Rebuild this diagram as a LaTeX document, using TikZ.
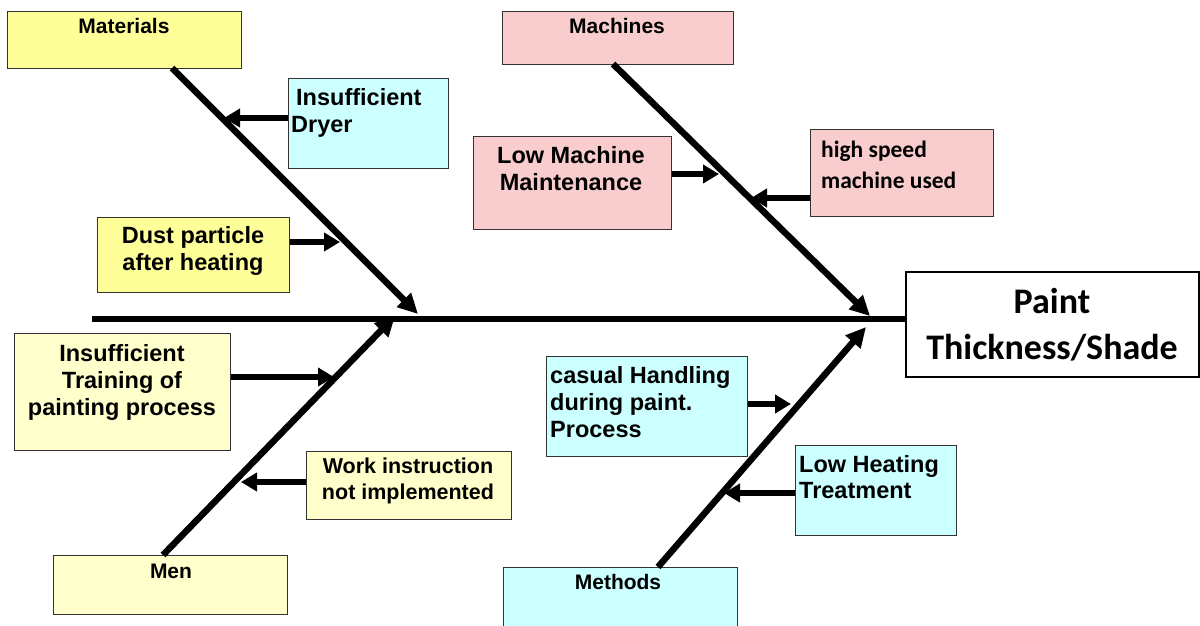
\documentclass[tikz,border=0pt]{standalone}
\usepackage{fontspec}
\setmainfont{Liberation Sans}
\newfontfamily\calib{Carlito}
\usetikzlibrary{arrows.meta}
\definecolor{yel}{HTML}{FFFF99}
\definecolor{pyel}{HTML}{FFFFCC}
\definecolor{pnk}{HTML}{F9CDCD}
\definecolor{cyn}{HTML}{CCFFFF}
\definecolor{edgec}{HTML}{333333}
\newcommand\mylinesl[1]{\begin{tabular}[t]{@{}l@{}}#1\end{tabular}}
\newcommand\mylinesc[1]{\begin{tabular}[t]{@{}c@{}}#1\end{tabular}}
\begin{document}
\begin{tikzpicture}[x=1pt,y=-1pt,
  box/.style={draw=edgec, line width=1.3pt, inner sep=0pt, anchor=north west},
  txt/.style={font=\bfseries\fontsize{23.5}{27}\selectfont, inner sep=0pt},
  cat/.style={font=\bfseries\fontsize{21}{25}\selectfont, inner sep=0pt, anchor=base},
  bone/.style={line width=6.5pt, -{Triangle[length=20pt,width=19pt]}},
  sub/.style={line width=6pt, -{Triangle[length=16pt,width=18pt]}}
]
\clip (0,0) rectangle (1200,625);
\fill[white] (0,0) rectangle (1200,625);

% category boxes
\node[box, fill=yel, minimum width=234pt, minimum height=57pt] (mat) at (7,11) {};
\node[box, fill=pnk, minimum width=231pt, minimum height=53pt] (mach) at (502,11) {};
\node[box, fill=pyel, minimum width=234pt, minimum height=59pt] (men) at (53,555) {};
\node[box, fill=cyn, minimum width=234pt, minimum height=80pt] (meth) at (503,567) {};
\node[cat] (tmat) at (124,33) {Materials};
\node[cat] (tmach) at (617,33) {Machines};
\node[cat] (tmen) at (171,578) {Men};
\node[cat] (tmeth) at (618,589) {Methods};

% cause boxes
\node[box, fill=cyn, minimum width=160pt, minimum height=90pt] (dry) at (288,78) {};
\node[box, fill=yel, minimum width=192pt, minimum height=75pt] (dust) at (97,217) {};
\node[box, fill=pnk, minimum width=198pt, minimum height=93pt] (lmm) at (473,136) {};
\node[box, fill=pnk, minimum width=183pt, minimum height=87pt] (hsm) at (810,129) {};
\node[box, fill=pyel, minimum width=216pt, minimum height=117pt] (itr) at (14,333) {};
\node[box, fill=pyel, minimum width=205pt, minimum height=68pt] (wi) at (306,451) {};
\node[box, fill=cyn, minimum width=201pt, minimum height=100pt] (cas) at (546,356) {};
\node[box, fill=cyn, minimum width=161pt, minimum height=90pt] (lht) at (795,445) {};

% effect box
\node[box, fill=white, draw=black, line width=2pt, minimum width=293pt, minimum height=105pt] (eff) at (905,271) {};

% texts
\node[txt, anchor=base west] (tdry) at (291,105) {\mylinesl{\hspace{5pt}Insufficient\\Dryer}};
\node[txt, anchor=base] (tdust) at (193,243) {\mylinesc{Dust particle\\after heating}};
\node[txt, anchor=base] (tlmm) at (571,163) {\mylinesc{Low Machine\\Maintenance}};
\node[txt, anchor=base west, font=\calib\bfseries\fontsize{23.5}{31}\selectfont] (thsm) at (821,157) {\mylinesl{high speed\\machine used}};
\node[txt, anchor=base, font=\calib\bfseries\fontsize{36}{46}\selectfont] (teff) at (1052,313) {\mylinesc{Paint\\Thickness/Shade}};
\node[txt, anchor=base] (titr) at (122,361) {\mylinesc{Insufficient\\Training of\\painting process}};
\node[txt, anchor=base, font=\bfseries\fontsize{21.5}{26}\selectfont] (twi) at (408,473) {\mylinesc{Work instruction\\not implemented}};
\node[txt, anchor=base west] (tcas) at (550,383) {\mylinesl{casual Handling\\during paint.\\Process}};
\node[txt, anchor=base west, font=\bfseries\fontsize{23.5}{26.5}\selectfont] (tlht) at (799,472) {\mylinesl{Low Heating\\Treatment}};

% spine and bone coordinates
\coordinate (sp0) at (92,319);
\coordinate (sMat) at (172,68);
\coordinate (eMat) at (418,314);
\coordinate (sMach) at (613,64);
\coordinate (eMach) at (870,316);
\coordinate (sMen) at (163,555);
\coordinate (eMen) at (395,316);
\coordinate (sMeth) at (658,567);
\coordinate (eMeth) at (866,327);

\draw[line width=6.5pt] (sp0) -- (sp0 -| eff.west);
\draw[bone] (sMat) -- (eMat);
\draw[bone] (sMach) -- (eMach);
\draw[bone] (sMen) -- (eMen);
\draw[bone] (sMeth) -- (eMeth);

% sub-cause arrows
\coordinate (aDry) at (224,118);
\coordinate (aDust) at (340,242);
\coordinate (aLmm) at (719,174);
\coordinate (aHsm) at (751,198);
\coordinate (aItr) at (334,377);
\coordinate (aWi) at (241,482);
\coordinate (aCas) at (791,404);
\coordinate (aLht) at (724,493);
\draw[sub] (dry.west |- aDry) -- (aDry);
\draw[sub] (dust.east |- aDust) -- (aDust);
\draw[sub] (lmm.east |- aLmm) -- (aLmm);
\draw[sub] (hsm.west |- aHsm) -- (aHsm);
\draw[sub] (itr.east |- aItr) -- (aItr);
\draw[sub] (wi.west |- aWi) -- (aWi);
\draw[sub] (cas.east |- aCas) -- (aCas);
\draw[sub] (lht.west |- aLht) -- (aLht);
\end{tikzpicture}
\end{document}
